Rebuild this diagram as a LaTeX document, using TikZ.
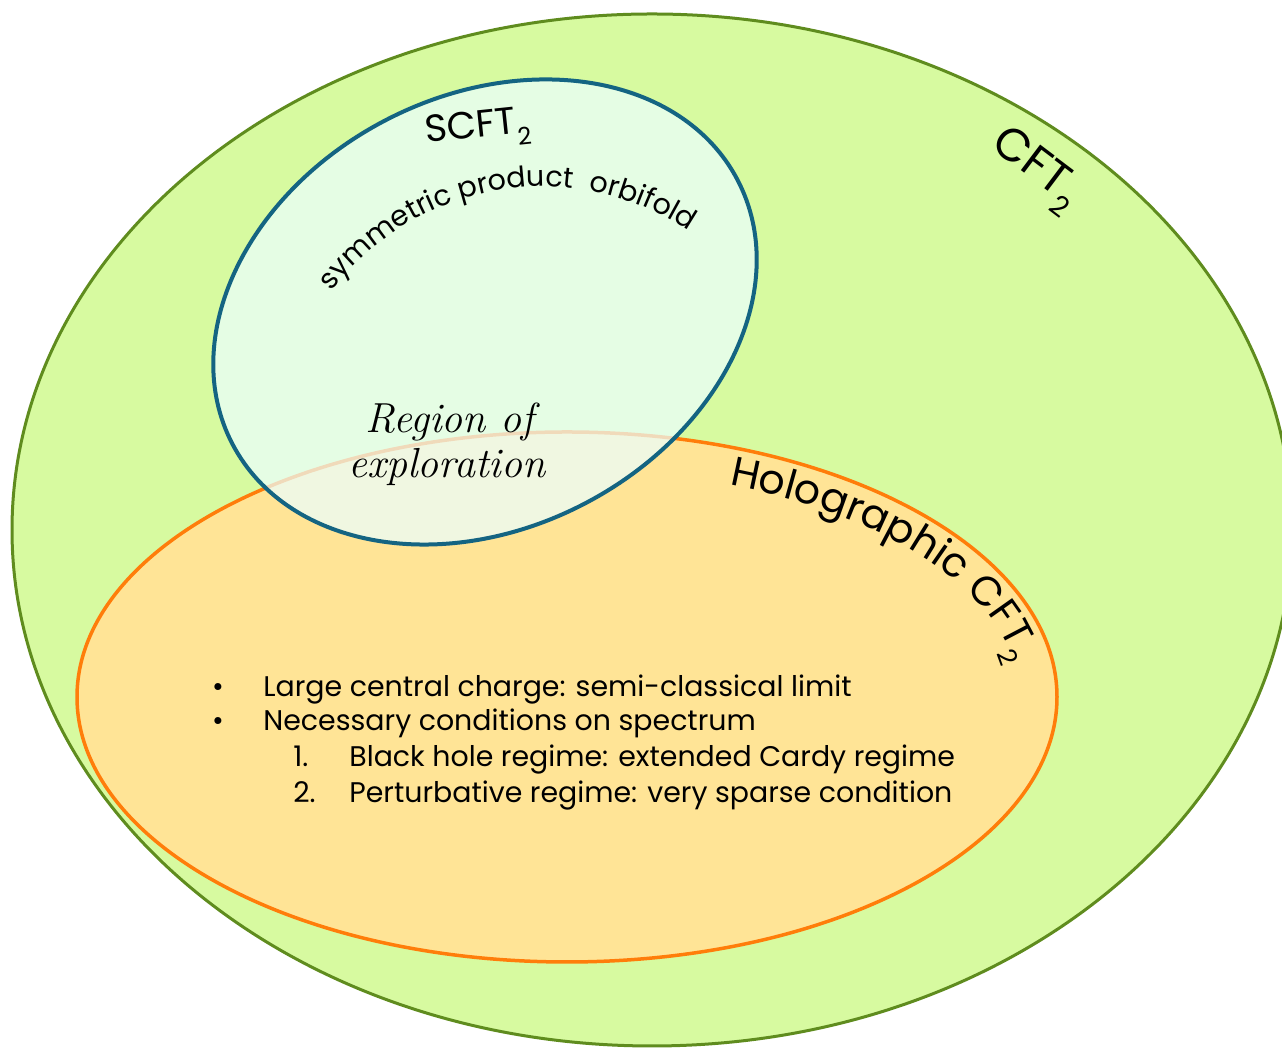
\documentclass[tikz,border=0pt]{standalone}
\usepackage{fontspec}
\newfontfamily\gothic{Poppins}
\usetikzlibrary{decorations.text}
\definecolor{cftfill}{RGB}{215,250,160}
\definecolor{cftline}{RGB}{95,140,30}
\definecolor{holofill}{RGB}{255,228,150}
\definecolor{hololine}{RGB}{255,125,10}
\definecolor{scftfill}{RGB}{235,255,255}
\definecolor{scftline}{RGB}{20,100,130}
\newcommand{\lowtwo}[1]{\raisebox{-0.32em}{\fontsize{#1}{#1}\selectfont 2}}
\tikzset{
  cftset/.style={draw=cftline, fill=cftfill, line width=1.5pt},
  holoset/.style={draw=hololine, fill=holofill, line width=1.75pt},
  scftset/.style={draw=scftline, fill=scftfill, fill opacity=0.72, line width=2pt},
  bigtitle/.style={font=\gothic\fontsize{23}{26}\selectfont, inner sep=0pt},
  midtitle/.style={font=\gothic\fontsize{19}{21}\selectfont, inner sep=0pt},
  listtext/.style={font=\gothic\fontsize{14.2}{17}\selectfont, anchor=base west, inner sep=0pt},
  bulletmark/.style={font=\gothic\fontsize{14.2}{17}\selectfont, anchor=base, inner sep=0pt},
  handtext/.style={font=\itshape\fontsize{21}{24}\selectfont, inner sep=0pt},
}
\begin{document}
\begin{tikzpicture}[x=0.5pt,y=0.5pt]
\useasboundingbox (0,0) rectangle (1282,1048);
% CFT2
\draw[cftset] (652,518) ellipse[x radius=640, y radius=516];
% Holographic CFT2
\draw[holoset] (567,351) ellipse[x radius=490, y radius=265];
% SCFT2
\draw[scftset, shift={(485,736)}, rotate=27.6] (0,0) ellipse[x radius=285, y radius=216];

% labels
\node[bigtitle, rotate=-37] (cft) at (1035,878) {CFT\lowtwo{14}};
\node[midtitle, rotate=6] (scft) at (478,918) {SCFT\lowtwo{12}};

\path[decorate, decoration={text along path, text align=center,
  text={|\gothic\fontsize{14.3}{17}\selectfont|symmetric product{\gothic\fontsize{14.3}{17}\selectfont\hspace{4pt}} orbifold}}]
  (542,597.5) ++(151:264) arc[start angle=151, end angle=48, radius=264];

\path[decorate, decoration={text along path, text align=left,
  text={|\gothic\fontsize{20.5}{24}\selectfont|Holographic CFT{\gothic\lowtwo{13}}}}]
  (567,351) ++(69:452 and 227) arc[start angle=69, end angle=-20, x radius=452, y radius=227];

\node[handtext] (reg1) at (450,626) {Region of};
\node[handtext] (reg2) at (447,581) {exploration};

% list
\node[bulletmark] (d1) at (218,351) {•};
\node[listtext] (l1) at (263,351) {Large central charge: semi-classical limit};
\node[bulletmark] (d2) at (218,317) {•};
\node[listtext] (l2) at (263,317) {Necessary conditions on spectrum};
\node[listtext] (m1) at (293,281) {1.};
\node[listtext] (l3) at (349,281) {Black hole regime: extended Cardy regime};
\node[listtext] (m2) at (293,245) {2.};
\node[listtext] (l4) at (349,245) {Perturbative regime: very sparse condition};
\end{tikzpicture}
\end{document}
